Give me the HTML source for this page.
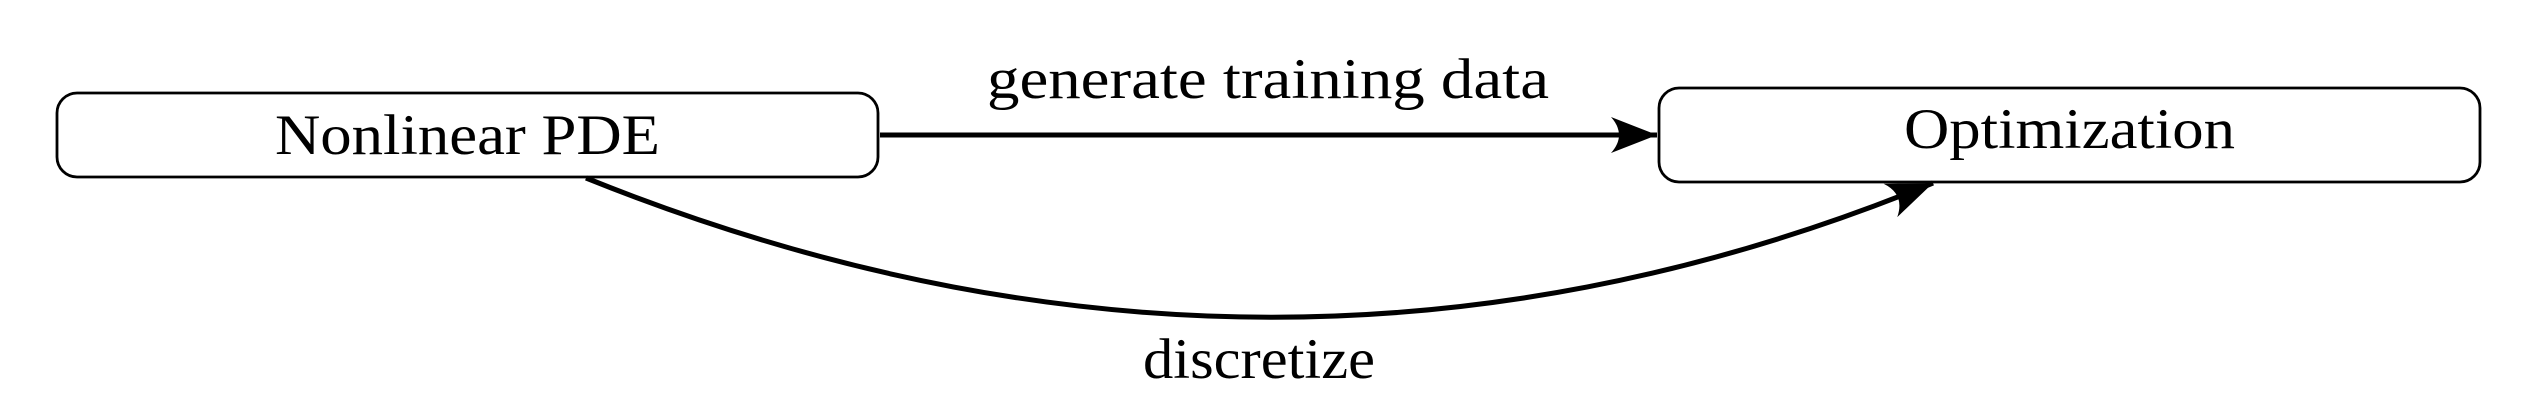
<!DOCTYPE html>
<html><head><meta charset="utf-8"><style>
html,body{margin:0;padding:0;background:#fff;}
svg{display:block;}
text{font-family:"Liberation Serif",serif;fill:#000;}
</style></head><body>
<svg width="2532" height="418" viewBox="0 0 2532 418" xmlns="http://www.w3.org/2000/svg">
<defs>
<marker id="ah" markerUnits="userSpaceOnUse" markerWidth="60" markerHeight="50" viewBox="-50 -25 60 50" refX="0" refY="0" orient="auto">
<path d="M0,0 L-46,-18 Q-30,0 -46,18 Z" fill="#000"/>
</marker>
</defs>
<rect x="57" y="93" width="821" height="84" rx="20" ry="20" fill="#fff" stroke="#000" stroke-width="2.8"/>
<rect x="1659" y="88" width="821" height="94" rx="20" ry="20" fill="#fff" stroke="#000" stroke-width="2.8"/>
<text x="275" y="154" font-size="57" textLength="385" lengthAdjust="spacingAndGlyphs">Nonlinear PDE</text>
<text x="1904" y="148" font-size="57" textLength="331" lengthAdjust="spacingAndGlyphs">Optimization</text>
<line x1="880" y1="135" x2="1657" y2="135" stroke="#000" stroke-width="5" marker-end="url(#ah)"/>
<path d="M586,178 Q1272,454 1933,183" fill="none" stroke="#000" stroke-width="5" marker-end="url(#ah)"/>
<text x="987" y="98" font-size="57" textLength="562" lengthAdjust="spacingAndGlyphs">generate training data</text>
<text x="1143" y="378" font-size="57" textLength="232" lengthAdjust="spacingAndGlyphs">discretize</text>
</svg>
</body></html>
